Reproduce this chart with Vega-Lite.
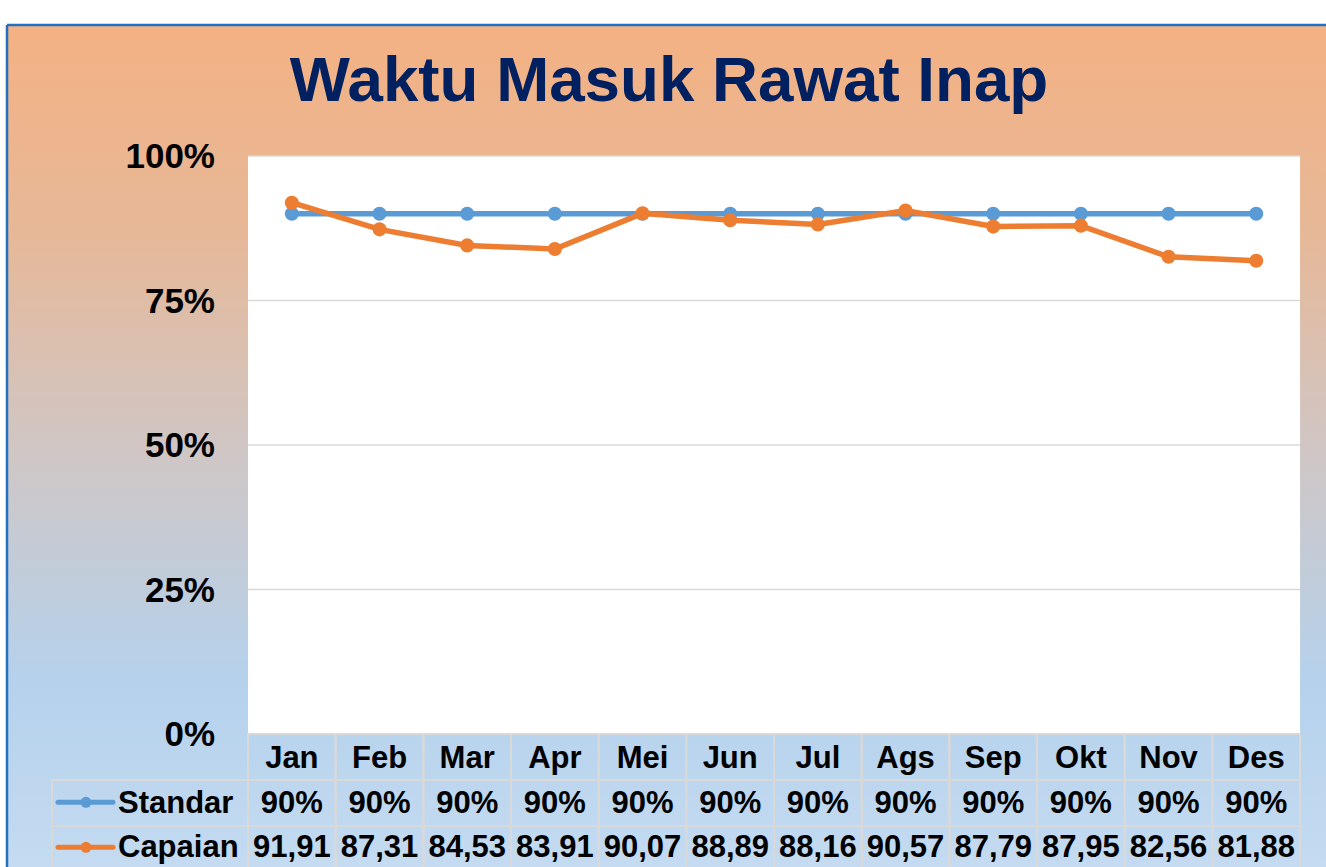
{
  "$schema": "https://vega.github.io/schema/vega-lite/v6.json",
  "width": 1319,
  "height": 842,
  "autosize": {"type": "none"},
  "padding": {"left": 7, "top": 25, "right": 0, "bottom": 0},
  "background": "white",
  "title": {
    "text": "Waktu Masuk Rawat Inap",
    "fontSize": 63.7,
    "font": "Liberation Sans",
    "fontWeight": "bold",
    "color": "#002060",
    "anchor": "middle",
    "frame": "group",
    "offset": -141,
    "baseline": "alphabetic",
    "dx": 2.5
  },
  "data": {
    "values": [
      {"i": 1, "bulan": "Jan", "standar": 90, "capaian": 91.91},
      {"i": 2, "bulan": "Feb", "standar": 90, "capaian": 87.31},
      {"i": 3, "bulan": "Mar", "standar": 90, "capaian": 84.53},
      {"i": 4, "bulan": "Apr", "standar": 90, "capaian": 83.91},
      {"i": 5, "bulan": "Mei", "standar": 90, "capaian": 90.07},
      {"i": 6, "bulan": "Jun", "standar": 90, "capaian": 88.89},
      {"i": 7, "bulan": "Jul", "standar": 90, "capaian": 88.16},
      {"i": 8, "bulan": "Ags", "standar": 90, "capaian": 90.57},
      {"i": 9, "bulan": "Sep", "standar": 90, "capaian": 87.79},
      {"i": 10, "bulan": "Okt", "standar": 90, "capaian": 87.95},
      {"i": 11, "bulan": "Nov", "standar": 90, "capaian": 82.56},
      {"i": 12, "bulan": "Des", "standar": 90, "capaian": 81.88}
    ]
  },
  "layer": [
    {
      "data": {"values": [{}]},
      "mark": {"type": "rect", "fill": "white"},
      "encoding": {
        "x": {"datum": 0.5, "type": "quantitative", "scale": {"domain": [-2.249, 12.796], "nice": false, "zero": false, "padding": 0}, "axis": null},
        "x2": {"datum": 12.5},
        "y": {"datum": 0, "type": "quantitative", "scale": {"domain": [-23.01, 122.66], "nice": false, "zero": false}, "axis": null},
        "y2": {"datum": 100}
      }
    },
    {
      "data": {"values": [{"p": 0}, {"p": 25}, {"p": 50}, {"p": 75}, {"p": 100}]},
      "mark": {"type": "rule", "color": "#D9D9D9", "strokeWidth": 1.5},
      "encoding": {
        "x": {"datum": 0.5, "type": "quantitative", "scale": {"domain": [-2.249, 12.796], "nice": false, "zero": false, "padding": 0}, "axis": null},
        "x2": {"datum": 12.5},
        "y": {"field": "p", "type": "quantitative", "scale": {"domain": [-23.01, 122.66], "nice": false, "zero": false}, "axis": null}
      }
    },
    {
      "data": {"values": [{"p": 0}, {"p": 25}, {"p": 50}, {"p": 75}, {"p": 100}]},
      "mark": {"type": "text", "fontSize": 35, "fontWeight": "bold", "color": "black", "align": "right", "baseline": "middle", "dy": 1.5},
      "encoding": {
        "x": {"datum": 0.1236, "type": "quantitative", "scale": {"domain": [-2.249, 12.796], "nice": false, "zero": false, "padding": 0}, "axis": null},
        "y": {"field": "p", "type": "quantitative", "scale": {"domain": [-23.01, 122.66], "nice": false, "zero": false}, "axis": null},
        "text": {"field": "p", "type": "quantitative", "format": "$.0f"}
      }
    },
    {
      "data": {"values": [{}]},
      "mark": {"type": "rule", "color": "#2072C0", "strokeWidth": 2.5},
      "encoding": {
        "x": {"datum": -2.249, "type": "quantitative", "scale": {"domain": [-2.249, 12.796], "nice": false, "zero": false, "padding": 0}, "axis": null},
        "y": {"datum": -23.01, "type": "quantitative", "scale": {"domain": [-23.01, 122.66], "nice": false, "zero": false}, "axis": null},
        "y2": {"datum": 122.66}
      }
    },
    {
      "data": {"values": [{}]},
      "mark": {"type": "rule", "color": "#2072C0", "strokeWidth": 2.5},
      "encoding": {
        "x": {"datum": -2.249, "type": "quantitative", "scale": {"domain": [-2.249, 12.796], "nice": false, "zero": false, "padding": 0}, "axis": null},
        "x2": {"datum": 12.796},
        "y": {"datum": 122.66, "type": "quantitative", "scale": {"domain": [-23.01, 122.66], "nice": false, "zero": false}, "axis": null}
      }
    },
    {
      "mark": {"type": "bar", "width": 87.67, "fill": "transparent", "stroke": "#D9D9D9", "strokeWidth": 2},
      "encoding": {
        "x": {"field": "i", "type": "quantitative", "scale": {"domain": [-2.249, 12.796], "nice": false, "zero": false, "padding": 0}, "axis": null},
        "y": {"datum": 0, "type": "quantitative", "scale": {"domain": [-23.01, 122.66], "nice": false, "zero": false}, "axis": null},
        "y2": {"datum": -7.958}
      }
    },
    {
      "mark": {"type": "bar", "width": 87.67, "fill": "transparent", "stroke": "#D9D9D9", "strokeWidth": 2},
      "encoding": {
        "x": {"field": "i", "type": "quantitative", "scale": {"domain": [-2.249, 12.796], "nice": false, "zero": false, "padding": 0}, "axis": null},
        "y": {"datum": -7.958, "type": "quantitative", "scale": {"domain": [-23.01, 122.66], "nice": false, "zero": false}, "axis": null},
        "y2": {"datum": -15.917}
      }
    },
    {
      "mark": {"type": "bar", "width": 87.67, "fill": "transparent", "stroke": "#D9D9D9", "strokeWidth": 2},
      "encoding": {
        "x": {"field": "i", "type": "quantitative", "scale": {"domain": [-2.249, 12.796], "nice": false, "zero": false, "padding": 0}, "axis": null},
        "y": {"datum": -15.917, "type": "quantitative", "scale": {"domain": [-23.01, 122.66], "nice": false, "zero": false}, "axis": null},
        "y2": {"datum": -23.875}
      }
    },
    {
      "data": {"values": [{}]},
      "mark": {"type": "rect", "fill": "transparent", "stroke": "#D9D9D9", "strokeWidth": 2},
      "encoding": {
        "x": {"datum": -1.736, "type": "quantitative", "scale": {"domain": [-2.249, 12.796], "nice": false, "zero": false, "padding": 0}, "axis": null},
        "x2": {"datum": 0.5},
        "y": {"datum": -7.958, "type": "quantitative", "scale": {"domain": [-23.01, 122.66], "nice": false, "zero": false}, "axis": null},
        "y2": {"datum": -15.917}
      }
    },
    {
      "data": {"values": [{}]},
      "mark": {"type": "rect", "fill": "transparent", "stroke": "#D9D9D9", "strokeWidth": 2},
      "encoding": {
        "x": {"datum": -1.736, "type": "quantitative", "scale": {"domain": [-2.249, 12.796], "nice": false, "zero": false, "padding": 0}, "axis": null},
        "x2": {"datum": 0.5},
        "y": {"datum": -15.917, "type": "quantitative", "scale": {"domain": [-23.01, 122.66], "nice": false, "zero": false}, "axis": null},
        "y2": {"datum": -23.875}
      }
    },
    {
      "mark": {"type": "text", "fontSize": 31, "fontWeight": "bold", "color": "black", "align": "center", "baseline": "alphabetic"},
      "encoding": {
        "x": {"field": "i", "type": "quantitative", "scale": {"domain": [-2.249, 12.796], "nice": false, "zero": false, "padding": 0}, "axis": null},
        "y": {"datum": -5.94, "type": "quantitative", "scale": {"domain": [-23.01, 122.66], "nice": false, "zero": false}, "axis": null},
        "text": {"field": "bulan", "type": "nominal"}
      }
    },
    {
      "mark": {"type": "text", "fontSize": 31, "fontWeight": "bold", "color": "black", "align": "center", "baseline": "alphabetic"},
      "encoding": {
        "x": {"field": "i", "type": "quantitative", "scale": {"domain": [-2.249, 12.796], "nice": false, "zero": false, "padding": 0}, "axis": null},
        "y": {"datum": -13.72, "type": "quantitative", "scale": {"domain": [-23.01, 122.66], "nice": false, "zero": false}, "axis": null},
        "text": {"field": "standar", "type": "quantitative", "format": "$.0f"}
      }
    },
    {
      "mark": {"type": "text", "fontSize": 31, "fontWeight": "bold", "color": "black", "align": "center", "baseline": "alphabetic"},
      "encoding": {
        "x": {"field": "i", "type": "quantitative", "scale": {"domain": [-2.249, 12.796], "nice": false, "zero": false, "padding": 0}, "axis": null},
        "y": {"datum": -21.35, "type": "quantitative", "scale": {"domain": [-23.01, 122.66], "nice": false, "zero": false}, "axis": null},
        "text": {"field": "capaian", "type": "quantitative", "format": ".2f"}
      }
    },
    {
      "data": {"values": [{"seri": "Standar"}]},
      "mark": {"type": "text", "fontSize": 31, "fontWeight": "bold", "color": "black", "align": "left", "baseline": "alphabetic"},
      "encoding": {
        "x": {"datum": -0.983, "type": "quantitative", "scale": {"domain": [-2.249, 12.796], "nice": false, "zero": false, "padding": 0}, "axis": null},
        "y": {"datum": -13.72, "type": "quantitative", "scale": {"domain": [-23.01, 122.66], "nice": false, "zero": false}, "axis": null},
        "text": {"field": "seri", "type": "nominal"}
      }
    },
    {
      "data": {"values": [{"seri": "Capaian"}]},
      "mark": {"type": "text", "fontSize": 31, "fontWeight": "bold", "color": "black", "align": "left", "baseline": "alphabetic"},
      "encoding": {
        "x": {"datum": -0.983, "type": "quantitative", "scale": {"domain": [-2.249, 12.796], "nice": false, "zero": false, "padding": 0}, "axis": null},
        "y": {"datum": -21.35, "type": "quantitative", "scale": {"domain": [-23.01, 122.66], "nice": false, "zero": false}, "axis": null},
        "text": {"field": "seri", "type": "nominal"}
      }
    },
    {
      "data": {"values": [{}]},
      "mark": {"type": "rule", "color": "#5B9BD5", "strokeWidth": 5, "strokeCap": "round"},
      "encoding": {
        "x": {"datum": -1.667, "type": "quantitative", "scale": {"domain": [-2.249, 12.796], "nice": false, "zero": false, "padding": 0}, "axis": null},
        "x2": {"datum": -1.04},
        "y": {"datum": -11.82, "type": "quantitative", "scale": {"domain": [-23.01, 122.66], "nice": false, "zero": false}, "axis": null}
      }
    },
    {
      "data": {"values": [{}]},
      "mark": {"type": "point", "filled": true, "opacity": 1, "color": "#5B9BD5", "size": 120, "shape": "circle"},
      "encoding": {
        "x": {"datum": -1.348, "type": "quantitative", "scale": {"domain": [-2.249, 12.796], "nice": false, "zero": false, "padding": 0}, "axis": null},
        "y": {"datum": -11.82, "type": "quantitative", "scale": {"domain": [-23.01, 122.66], "nice": false, "zero": false}, "axis": null}
      }
    },
    {
      "data": {"values": [{}]},
      "mark": {"type": "rule", "color": "#ED7D31", "strokeWidth": 5, "strokeCap": "round"},
      "encoding": {
        "x": {"datum": -1.667, "type": "quantitative", "scale": {"domain": [-2.249, 12.796], "nice": false, "zero": false, "padding": 0}, "axis": null},
        "x2": {"datum": -1.04},
        "y": {"datum": -19.6, "type": "quantitative", "scale": {"domain": [-23.01, 122.66], "nice": false, "zero": false}, "axis": null}
      }
    },
    {
      "data": {"values": [{}]},
      "mark": {"type": "point", "filled": true, "opacity": 1, "color": "#ED7D31", "size": 120, "shape": "circle"},
      "encoding": {
        "x": {"datum": -1.348, "type": "quantitative", "scale": {"domain": [-2.249, 12.796], "nice": false, "zero": false, "padding": 0}, "axis": null},
        "y": {"datum": -19.6, "type": "quantitative", "scale": {"domain": [-23.01, 122.66], "nice": false, "zero": false}, "axis": null}
      }
    },
    {
      "mark": {"type": "line", "color": "#5B9BD5", "strokeWidth": 5.5},
      "encoding": {
        "x": {"field": "i", "type": "quantitative", "scale": {"domain": [-2.249, 12.796], "nice": false, "zero": false, "padding": 0}, "axis": null},
        "y": {"field": "standar", "type": "quantitative", "scale": {"domain": [-23.01, 122.66], "nice": false, "zero": false}, "axis": null}
      }
    },
    {
      "mark": {"type": "point", "filled": true, "opacity": 1, "color": "#5B9BD5", "size": 200, "shape": "circle"},
      "encoding": {
        "x": {"field": "i", "type": "quantitative", "scale": {"domain": [-2.249, 12.796], "nice": false, "zero": false, "padding": 0}, "axis": null},
        "y": {"field": "standar", "type": "quantitative", "scale": {"domain": [-23.01, 122.66], "nice": false, "zero": false}, "axis": null}
      }
    },
    {
      "mark": {"type": "line", "color": "#ED7D31", "strokeWidth": 5.5},
      "encoding": {
        "x": {"field": "i", "type": "quantitative", "scale": {"domain": [-2.249, 12.796], "nice": false, "zero": false, "padding": 0}, "axis": null},
        "y": {"field": "capaian", "type": "quantitative", "scale": {"domain": [-23.01, 122.66], "nice": false, "zero": false}, "axis": null}
      }
    },
    {
      "mark": {"type": "point", "filled": true, "opacity": 1, "color": "#ED7D31", "size": 200, "shape": "circle"},
      "encoding": {
        "x": {"field": "i", "type": "quantitative", "scale": {"domain": [-2.249, 12.796], "nice": false, "zero": false, "padding": 0}, "axis": null},
        "y": {"field": "capaian", "type": "quantitative", "scale": {"domain": [-23.01, 122.66], "nice": false, "zero": false}, "axis": null}
      }
    }
  ],
  "config": {
    "font": "Liberation Sans",
    "locale": {
      "number": {"decimal": ",", "thousands": ".", "grouping": [3], "currency": ["", "%"]}
    },
    "view": {
      "stroke": null,
      "fill": {
        "gradient": "linear",
        "x1": 0, "y1": 0, "x2": 0, "y2": 1,
        "stops": [
          {"offset": 0, "color": "#F4B183"},
          {"offset": 0.25, "color": "#E6B898"},
          {"offset": 0.5, "color": "#D0C6C4"},
          {"offset": 0.78, "color": "#B5D1EC"},
          {"offset": 1, "color": "#C4DBF1"}
        ]
      }
    }
  }
}
